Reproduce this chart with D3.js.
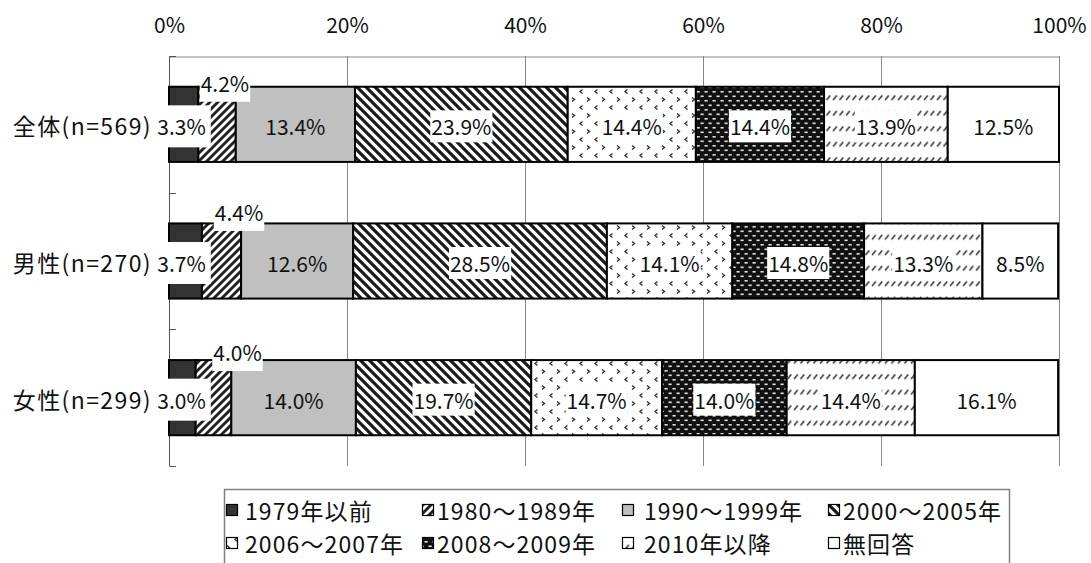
<!DOCTYPE html>
<html><head><meta charset="utf-8">
<script src="https://cdn.jsdelivr.net/npm/d3@7"></script>
<style>
body{margin:0;background:#fff}
svg{display:block}
text{font-family:"Noto Sans CJK JP","Noto Sans",sans-serif;fill:#111}
</style>
</head><body>
<svg id="chart" width="1091" height="563"></svg>
<script>
// ---------- data ----------
const categories = ["全体(n=569)", "男性(n=270)", "女性(n=299)"];
const seriesNames = ["1979年以前", "1980～1989年", "1990～1999年", "2000～2005年",
                     "2006～2007年", "2008～2009年", "2010年以降", "無回答"];
const s1979   = [3.3, 3.7, 3.0];
const s1980   = [4.2, 4.4, 4.0];
const s1990   = [13.4, 12.6, 14.0];
const s2000   = [23.9, 28.5, 19.7];
const s2006   = [14.4, 14.1, 14.7];
const s2008   = [14.4, 14.8, 14.0];
const s2010   = [13.9, 13.3, 14.4];
const sNoAns  = [12.5, 8.5, 16.1];
const xTickValues = [0, 20, 40, 60, 80, 100];
const xTickLabels = ["0%", "20%", "40%", "60%", "80%", "100%"];

const seriesValues = [s1979, s1980, s1990, s2000, s2006, s2008, s2010, sNoAns];

// ---------- setup ----------
const svg = d3.select("#chart");
const x = d3.scaleLinear().domain([0, 100]).range([169, 1059]);
const y = d3.scaleBand().domain(categories).range([56, 466]).paddingInner(0.45).paddingOuter(0.225);

// patterns
const defs = svg.append("defs");
function pat(id, w, h, build) {
  const p = defs.append("pattern").attr("id", id).attr("patternUnits", "userSpaceOnUse")
    .attr("width", w).attr("height", h);
  build(p);
}
pat("pUp", 8, 8, p => {
  p.append("rect").attr("width", 8).attr("height", 8).attr("fill", "#fff");
  p.append("path").attr("d", "M-2,2 L2,-2 M0,8 L8,0 M6,10 L10,6")
    .attr("stroke", "#222").attr("stroke-width", 2.9);
});
pat("pDown", 9, 9, p => {
  p.append("rect").attr("width", 9).attr("height", 9).attr("fill", "#fff");
  p.append("path").attr("d", "M-2,7 L2,11 M0,0 L9,9 M7,-2 L11,2")
    .attr("stroke", "#1a1a1a").attr("stroke-width", 3.2);
});
pat("pConf", 15, 16, p => {
  p.append("rect").attr("width", 15).attr("height", 16).attr("fill", "#fff");
  p.append("path").attr("d", "M2,1.5 L4.5,3.5 L2,5.5 M12.5,9.5 L10,11.5 L12.5,13.5")
    .attr("stroke", "#333").attr("stroke-width", 1.4).attr("fill", "none");
});
pat("pChk", 8, 9, p => {
  p.append("rect").attr("width", 8).attr("height", 9).attr("fill", "#111");
  p.append("rect").attr("x", 0.5).attr("y", 1).attr("width", 3.2).attr("height", 1.6).attr("fill", "#ddd");
  p.append("rect").attr("x", 4.5).attr("y", 5.5).attr("width", 3.2).attr("height", 1.6).attr("fill", "#ddd");
});
pat("pDash", 6.5, 15.5, p => {
  p.append("rect").attr("width", 6.5).attr("height", 15.5).attr("fill", "#fff");
  p.append("path").attr("d", "M1,7 L4.8,2.5")
    .attr("stroke", "#333").attr("stroke-width", 1.6);
});
const fills = ["#333333", "url(#pUp)", "#c0c0c0", "url(#pDown)", "url(#pConf)", "url(#pChk)", "url(#pDash)", "#ffffff"];

// gridlines
svg.append("g").selectAll("line").data(xTickValues.slice(1)).join("line")
  .attr("x1", d => x(d)).attr("x2", d => x(d))
  .attr("y1", y.range()[0]).attr("y2", y.range()[1])
  .attr("stroke", "#888").attr("stroke-width", 1).attr("shape-rendering", "crispEdges");

// top axis
const topAxis = svg.append("g").attr("transform", "translate(0,56.5)")
  .call(d3.axisTop(x).tickValues(xTickValues).tickFormat((d, i) => xTickLabels[i])
    .tickSize(0).tickSizeOuter(0).tickPadding(24));
topAxis.select(".domain").attr("stroke", "#888");
topAxis.selectAll("text").attr("font-size", 21).attr("font-family", null).attr("fill", "#111");

// left axis (ticks at band boundaries)
const step = y.step();
const bounds = d3.range(categories.length + 1).map(i => y.range()[0] + i * step);
const left = svg.append("g");
left.append("line").attr("x1", 169.5).attr("x2", 169.5).attr("y1", y.range()[0]).attr("y2", y.range()[1])
  .attr("stroke", "#555");
left.selectAll("line.tk").data(bounds).join("line").attr("class", "tk")
  .attr("x1", 169.5).attr("x2", 176).attr("y1", d => Math.round(d) + 0.5).attr("y2", d => Math.round(d) + 0.5)
  .attr("stroke", "#555");

// bars
const table = categories.map((c, i) => {
  const o = { cat: c };
  seriesValues.forEach((s, j) => o[j] = s[i]);
  return o;
});
const stack = d3.stack().keys(d3.range(seriesValues.length));
const layers = stack(table);

const barG = svg.append("g");
layers.forEach((layer, j) => {
  barG.append("g").selectAll("rect").data(layer).join("rect")
    .attr("x", d => x(d[0])).attr("width", d => x(d[1]) - x(d[0]))
    .attr("y", d => y(d.data.cat)).attr("height", y.bandwidth())
    .attr("fill", fills[j]).attr("stroke", "#000").attr("stroke-width", 2);
});

// category labels
svg.append("g").selectAll("text").data(categories).join("text")
  .attr("x", 152).attr("y", d => y(d) + y.bandwidth() / 2 + 11)
  .attr("text-anchor", "end").attr("font-size", 23).attr("letter-spacing", 1.4)
  .text(d => d);

// data labels
const fmt = d3.format(".1f");
const lblG = svg.append("g");
const smallDx = [7.9, 17.5, 24];       // label shift for 2nd series (placed above the bar)
const smallDy = [5, -2.5, 1];
layers.forEach((layer, j) => {
  layer.forEach((d, i) => {
    const v = d.data[j];
    const top = y(d.data.cat), cy = top + y.bandwidth() / 2;
    let cx, base, boxTop, boxH, padX, withBox = true;
    if (j === 0) {
      cx = x(0) + 12.5; base = cy + 11; boxTop = cy - 19; boxH = 42; padX = 5;
    } else if (j === 1) {
      cx = (x(d[0]) + x(d[1])) / 2 + smallDx[i]; base = top + smallDy[i];
      boxTop = base - 22; boxH = 32; padX = 1;
    } else {
      cx = (x(d[0]) + x(d[1])) / 2; base = cy + 11; boxTop = cy - 14; boxH = 32; padX = 1;
      if (j === 2 || j === 7) withBox = false;
    }
    const g = lblG.append("g");
    const t = g.append("text").attr("x", cx).attr("y", base).attr("text-anchor", "middle")
      .attr("font-size", 21).text(fmt(v) + "%");
    if (withBox) {
      const bb = t.node().getBBox();
      g.insert("rect", "text").attr("x", bb.x - padX).attr("width", bb.width + 2 * padX)
        .attr("y", boxTop).attr("height", boxH).attr("fill", "#fff");
    }
  });
});

// legend
const lg = svg.append("g");
lg.append("rect").attr("x", 224.5).attr("y", 489.5).attr("width", 785).attr("height", 90)
  .attr("fill", "#fff").attr("stroke", "#808080").attr("stroke-width", 1.5);
const symX = [226, 422, 622, 828];
const txtX = [245, 437, 644, 843];
const rowBase = [520, 553];
seriesNames.forEach((name, j) => {
  const r = Math.floor(j / 4), c = j % 4;
  lg.append("rect").attr("x", symX[c] + 0.5).attr("y", rowBase[r] - 15.5).attr("width", 11).attr("height", 11)
    .attr("fill", fills[j]).attr("stroke", "#000").attr("stroke-width", 1.2);
  lg.append("text").attr("x", txtX[c]).attr("y", rowBase[r]).attr("font-size", 23)
    .attr("letter-spacing", 1.1).text(name);
});
</script>
</body></html>
